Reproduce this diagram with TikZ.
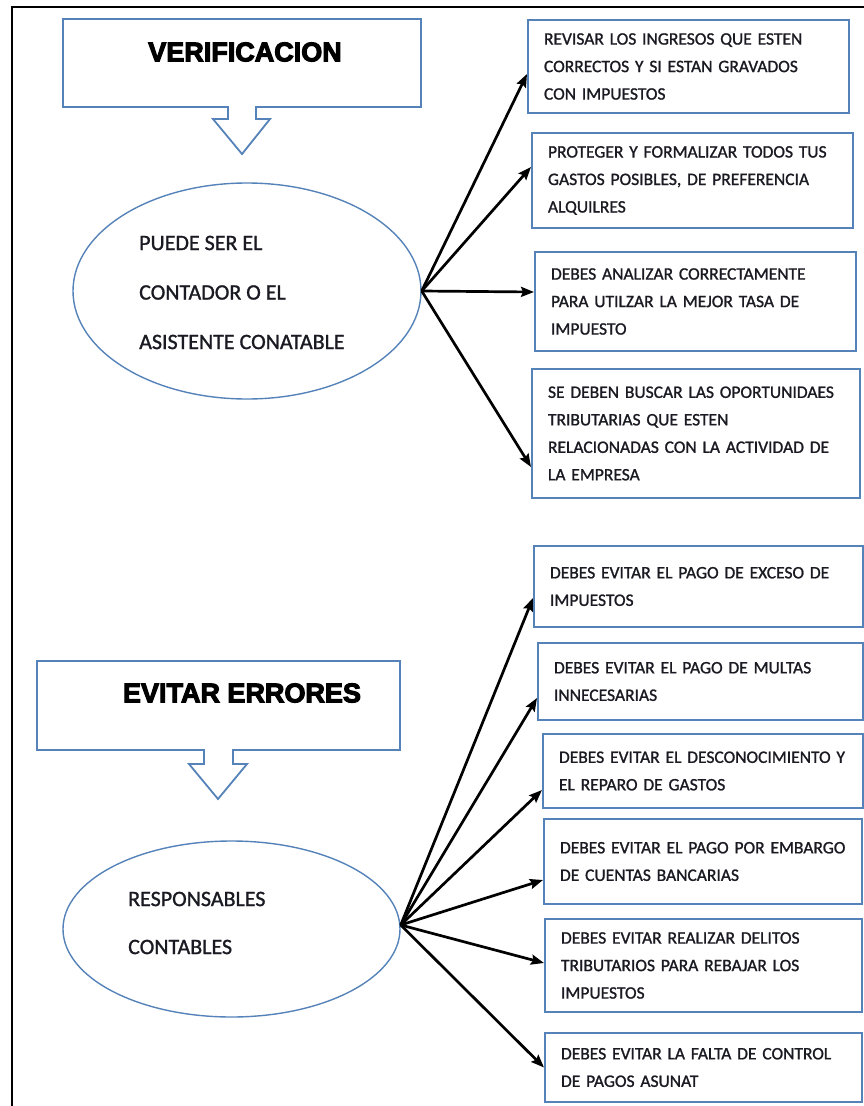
\documentclass[tikz,border=0pt]{standalone}
\usepackage{fontspec}
\setmainfont{Carlito}[FakeBold=1.2]
\newfontfamily\titlefont{Liberation Sans Bold}[FakeBold=4]
\usetikzlibrary{shapes.geometric,arrows.meta}
\definecolor{boxblue}{HTML}{5582B8}
\definecolor{txt}{HTML}{1A1A22}
\tikzset{
  rbox/.style={draw=boxblue, line width=2pt, inner xsep=16pt, inner ysep=2pt, align=left, text=txt,
    font=\fontsize{17.5}{27.5}\selectfont},
  ell/.style={draw=boxblue, line width=1.4pt, ellipse, inner sep=0pt},
  elltext/.style={anchor=west, align=left, text=txt, inner sep=0pt},
  callout/.style={draw=boxblue, line width=1.8pt},
  title/.style={font=\titlefont\fontsize{27}{30}\selectfont, text=black, inner sep=0pt},
  conn/.style={-{Stealth[length=13pt,width=10pt,inset=2pt]}, line width=2.7pt, black},
  frame/.style={line width=2.2pt, black}
}
\begin{document}
\begin{tikzpicture}[x=1pt,y=-1pt]
\useasboundingbox (0,0) rectangle (864,1106);
% frame
\draw[frame] (12,1110) -- (12,7) -- (870,7);

% title callouts
\draw[callout] (63,19) -- (421,19) -- (421,107) -- (256,107) -- (256,119) -- (270,119) -- (242,154)
  -- (213,119) -- (228,119) -- (228,107) -- (63,107) -- cycle;
\node[title] (t1) at (245,52) {VERIFICACION};

\draw[callout] (37,661) -- (400,661) -- (400,750) -- (233,750) -- (233,764) -- (247,764) -- (218,799)
  -- (189,764) -- (204,764) -- (204,750) -- (37,750) -- cycle;
\node[title] (t2) at (242,693) {EVITAR ERRORES};

% ellipses
\node[ell, minimum width=348pt, minimum height=216pt] (e1) at (247,291) {};
\node[elltext, font=\fontsize{22}{49.5}\selectfont] (e1t) at (139,292.5)
  {PUEDE SER EL\\CONTADOR O EL\\ASISTENTE CONATABLE};

\node[ell, minimum width=337pt, minimum height=176pt] (e2) at (231.5,929) {};
\node[elltext, font=\fontsize{22}{48}\selectfont] (e2t) at (128,923)
  {RESPONSABLES\\CONTABLES};

% top boxes
\node[rbox, text width=289pt, minimum height=93pt] (r1) at (688.5,66.5)
  {\mbox{REVISAR LOS INGRESOS QUE ESTEN}\\\mbox{CORRECTOS Y SI ESTAN GRAVADOS}\\\mbox{CON IMPUESTOS}};
\node[rbox, text width=289pt, minimum height=95pt] (r2) at (692.5,180.5)
  {\mbox{PROTEGER Y FORMALIZAR TODOS TUS}\\\mbox{GASTOS POSIBLES, DE PREFERENCIA}\\\mbox{ALQUILRES}};
\node[rbox, text width=289pt, minimum height=99pt] (r3) at (695.5,301.5)
  {\mbox{DEBES ANALIZAR CORRECTAMENTE}\\\mbox{PARA UTILZAR LA MEJOR TASA DE}\\\mbox{IMPUESTO}};
\node[rbox, text width=296pt, minimum height=129pt] (r4) at (696,433.5)
  {\mbox{SE DEBEN BUSCAR LAS OPORTUNIDAES}\\\mbox{TRIBUTARIAS QUE ESTEN}\\\mbox{RELACIONADAS CON LA ACTIVIDAD DE}\\\mbox{LA EMPRESA}};

% bottom boxes
\node[rbox, text width=297pt, minimum height=81pt] (r5) at (698.5,586.5)
  {\mbox{DEBES EVITAR EL PAGO DE EXCESO DE}\\\mbox{IMPUESTOS}};
\node[rbox, text width=293pt, minimum height=77pt] (r6) at (700.5,681.5)
  {\mbox{DEBES EVITAR EL PAGO DE MULTAS}\\\mbox{INNECESARIAS}};
\node[rbox, text width=288pt, minimum height=74pt] (r7) at (703,771)
  {\mbox{DEBES EVITAR EL DESCONOCIMIENTO Y}\\\mbox{EL REPARO DE GASTOS}};
\node[rbox, text width=286pt, minimum height=85pt] (r8) at (703,861.5)
  {\mbox{DEBES EVITAR EL PAGO POR EMBARGO}\\\mbox{DE CUENTAS BANCARIAS}};
\node[rbox, text width=285pt, minimum height=93pt] (r9) at (703.5,965.5)
  {\mbox{DEBES EVITAR REALIZAR DELITOS}\\\mbox{TRIBUTARIOS PARA REBAJAR LOS}\\\mbox{IMPUESTOS}};
\node[rbox, text width=285pt, minimum height=69pt] (r10) at (703.5,1067.5)
  {\mbox{DEBES EVITAR LA FALTA DE CONTROL}\\\mbox{DE PAGOS ASUNAT}};

% connectors top
\draw[conn] (e1.east) -- ([yshift=-7.5pt]r1.west);
\draw[conn] (e1.east) -- ([yshift=13.5pt]r2.west);
\draw[conn] (e1.east) -- ([yshift=9.5pt]r3.west);
\draw[conn] (e1.east) -- ([yshift=-33.5pt]r4.west);

% connectors bottom
\draw[conn] ([yshift=4pt]e2.east) -- ([yshift=-11.5pt]r5.west);
\draw[conn] ([yshift=4pt]e2.east) -- ([yshift=-16.5pt]r6.west);
\draw[conn] ([yshift=4pt]e2.east) -- ([yshift=-19pt]r7.west);
\draw[conn] ([yshift=4pt]e2.east) -- ([yshift=-18.5pt]r8.west);
\draw[conn] ([yshift=4pt]e2.east) -- ([yshift=2.5pt]r9.west);
\draw[conn] ([yshift=4pt]e2.east) -- ([yshift=0pt]r10.west);
\end{tikzpicture}
\end{document}
